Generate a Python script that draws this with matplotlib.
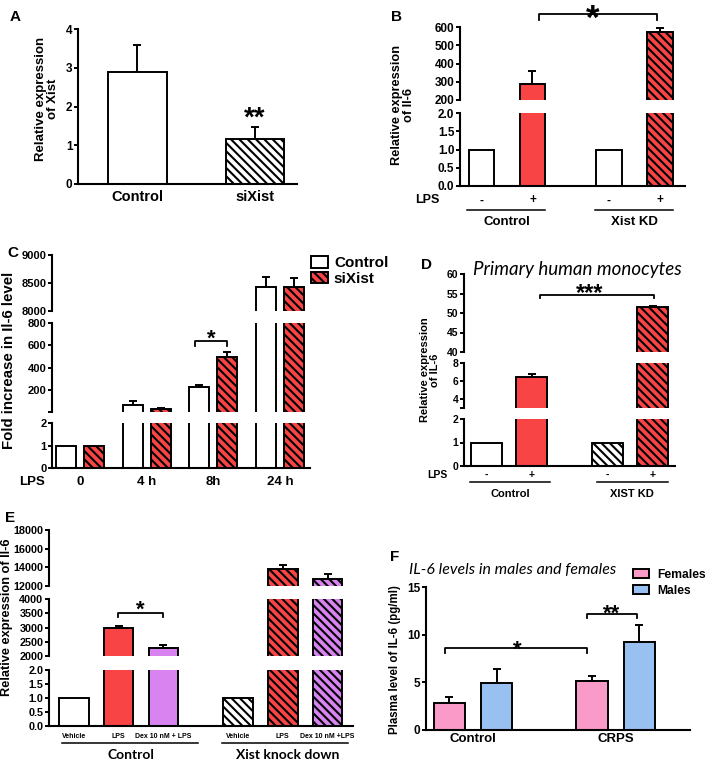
import numpy as np
import matplotlib
matplotlib.use("Agg")
import matplotlib.pyplot as plt
from matplotlib import transforms
from matplotlib.patches import Patch

# ---- data ----
a_groups = ['Control', 'siXist']
a_mean = [2.88, 1.15]
a_err = [0.70, 0.32]

b_lps = ['-', '+', '-', '+']
b_mean = [1, 285, 1, 570]
b_err = [0, 75, 0, 25]

c_times = ['0', '4 h', '8h', '24 h']
c_ctrl = [1, 72, 225, 8434]
c_ctrl_err = [0, 29, 18, 179]
c_si = [1, 30, 497, 8434]
c_si_err = [0, 15, 45, 150]

d_lps = ['-', '+', '-', '+']
d_mean = [1, 6.5, 1, 51.5]
d_err = [0, 0.25, 0, 0.4]

e_labels = ['Vehicle', 'LPS', 'Dex 10 nM + LPS', 'Vehicle', 'LPS', 'Dex 10 nM +LPS']
e_mean = [1, 2970, 2295, 1, 13830, 12780]
e_err = [0, 82, 95, 0, 450, 530]

f_groups = ['Control', 'CRPS']
f_fem = [2.86, 5.17]
f_fem_err = [0.57, 0.53]
f_male = [4.9, 9.2]
f_male_err = [1.5, 1.78]

RED = '#F84444'
PURPLE = '#D883F0'
PINK = '#F99AC9'
BLUE = '#98C1F2'
HATCH = '\\' * 4

plt.rcParams['font.family'] = ['Liberation Sans', 'DejaVu Sans']
plt.rcParams['font.weight'] = 'bold'
plt.rcParams['hatch.linewidth'] = 1.5

W, H = 707, 760
fig = plt.figure(figsize=(W / 100, H / 100), dpi=100)


def add_ax(x0, x1, ytop, ybot):
    ax = fig.add_axes([x0 / W, 1 - ybot / H, (x1 - x0) / W, (ybot - ytop) / H])
    ax.set_facecolor('none')
    for s in ['top', 'right']:
        ax.spines[s].set_visible(False)
    for s in ['left', 'bottom']:
        ax.spines[s].set_linewidth(1.5)
    ax.tick_params(axis='y', direction='out', length=3, width=1.4, pad=1)
    ax.tick_params(axis='x', length=0)
    return ax


def broken(x0, x1, segs, xlim, fs):
    axes = []
    for i, (yt, yb, lo, hi, ticks, labels) in enumerate(segs):
        ax = add_ax(x0, x1, yt, yb)
        ax.set_ylim(lo, hi)
        ax.set_xlim(*xlim)
        ax.set_yticks(ticks, labels if labels else [str(t) for t in ticks], fontsize=fs)
        if i < len(segs) - 1:
            ax.spines['bottom'].set_visible(False)
            ax.set_xticks([])
        axes.append(ax)
    return axes


def bars(axes, x, h, err, colors, hatches, w):
    x = np.asarray(x, float)
    h = np.asarray(h, float)
    err = np.asarray(err, float)
    m = err > 0
    for ax in axes:
        bc = ax.bar(x, h, w, color=colors, edgecolor='black', linewidth=1.4, zorder=2)
        for p, hh in zip(bc, hatches):
            if hh:
                p.set_hatch(hh)
        if m.any():
            ax.errorbar(x[m], h[m], yerr=[np.zeros(m.sum()), err[m]], fmt='none',
                        ecolor='black', elinewidth=1.4, capsize=3, capthick=1.4, zorder=1)


def bracket(ax, xa, xb, y, ytick):
    ax.plot([xa, xa, xb, xb], [ytick, y, y, ytick], color='black', lw=1.3, clip_on=False)


def ftext(xp, yp, s, **kw):
    return fig.text(xp / W, 1 - yp / H, s, **kw)


def star(xp, yp, s, size):
    # yp is where the glyph centre should sit
    ftext(xp, yp + 0.32 * size * 100 / 72, s, fontsize=size, ha='center', va='center')


def under(ax, xa, xb, yp):
    tr = transforms.blended_transform_factory(ax.transData, fig.transFigure)
    ax.plot([xa, xb], [1 - yp / H] * 2, color='black', lw=1.1, transform=tr, clip_on=False)


def dtext(ax, x, yp, s, **kw):
    tr = transforms.blended_transform_factory(ax.transData, fig.transFigure)
    ax.text(x, 1 - yp / H, s, transform=tr, ha='center', va='center', **kw)


# ---------------- A ----------------
ax = add_ax(78, 297, 29, 184)
ax.set_xlim(-0.506, 1.357)
ax.set_ylim(0, 4)
ax.set_yticks(range(5), [str(t) for t in range(5)], fontsize=8.5)
bars([ax], range(2), a_mean, a_err, ['white', 'white'], [None, HATCH], 0.5)
ax.set_xticks(range(2), a_groups, fontsize=10.5)
ax.tick_params(axis='x', pad=4)
star(255, 110, '**', 20)
ftext(47, 99, 'Relative expression\nof Xist', rotation=90, ha='center', va='center',
      fontsize=9.5, linespacing=1.05)
ftext(15, 17, 'A', fontsize=11, ha='center', va='center')

# ---------------- B ----------------
bx = [0, 1, 2.5, 3.5]
axs = broken(460, 685, [(27, 100, 200, 600, [200, 300, 400, 500, 600], None),
                        (113, 186, 0, 2, [0, 0.5, 1, 1.5, 2], ['0.0', '0.5', '1.0', '1.5', '2.0'])],
             (-0.42, 3.99), 8.5)
bars(axs, bx, b_mean, b_err, ['white', RED, 'white', RED], [None, None, None, HATCH], 0.5)
axs[-1].set_xticks(bx, b_lps, fontsize=8.5)
axs[-1].tick_params(axis='x', pad=6)
bracket(axs[0], 1.13, 3.44, 671, 638)
star(593, 8, '*', 25)
ftext(427, 200, 'LPS', fontsize=9, ha='center', va='center')
under(axs[-1], -0.28, 1.25, 210)
under(axs[-1], 2.22, 3.76, 210)
dtext(axs[-1], 0.5, 222, 'Control', fontsize=9.5)
dtext(axs[-1], 3.0, 222, 'Xist KD', fontsize=9.5)
ftext(403, 105, 'Relative expression\nof Il-6', rotation=90, ha='center', va='center',
      fontsize=9.2, linespacing=1.05)
ftext(397, 17, 'B', fontsize=11, ha='center', va='center')

# ---------------- C ----------------
cx = np.arange(len(c_times))
axs = broken(52, 310, [(255, 311, 8000, 9000, [8000, 8500, 9000], None),
                       (323, 412, 6, 800, [6, 200, 400, 600, 800], ['', '200', '400', '600', '800']),
                       (423, 468, 0, 2, [0, 1, 2], None)],
             (-0.42, 3.45), 8)
bars(axs, cx - 0.21, c_ctrl, c_ctrl_err, ['white'] * 4, [None] * 4, 0.3)
bars(axs, cx + 0.21, c_si, c_si_err, [RED] * 4, [HATCH] * 4, 0.3)
axs[-1].set_xticks(cx, c_times, fontsize=9.5)
axs[-1].tick_params(axis='x', pad=6)
bracket(axs[1], 1.72, 2.20, 638, 593)
star(211, 332, '*', 16)
ftext(32, 482, 'LPS', fontsize=9.5, ha='center', va='center')
ftext(9, 360, 'Fold increase in Il-6 level', rotation=90, ha='center', va='center', fontsize=10.8)
ftext(13, 253, 'C', fontsize=11, ha='center', va='center')
fig.legend([Patch(facecolor='white', edgecolor='black', lw=1.4),
            Patch(facecolor=RED, edgecolor='black', lw=1.4, hatch=HATCH)],
           ['Control', 'siXist'], loc='upper left', bbox_to_anchor=(311 / W, 1 - 256 / H),
           frameon=False, fontsize=11, handlelength=1.1, handleheight=0.8,
           handletextpad=0.4, labelspacing=0.1, borderpad=0, borderaxespad=0)

# ---------------- D ----------------
dx = [0, 1, 2.65, 3.65]
axs = broken(464, 675, [(274, 352, 40, 60, [40, 45, 50, 55, 60], None),
                        (363, 408, 3, 8, [3, 4, 6, 8], ['', '4', '6', '8']),
                        (419, 466, 0, 2, [0, 1, 2], None)],
             (-0.49, 4.14), 7.5)
bars(axs, dx, d_mean, d_err, ['white', RED, 'white', RED], [None, None, HATCH, HATCH], 0.68)
axs[-1].set_xticks(dx, d_lps, fontsize=7.5)
axs[-1].tick_params(axis='x', pad=3)
bracket(axs[0], 1.18, 3.68, 54.6, 53.8)
star(590, 286, '***', 17)
ftext(437, 475, 'LPS', fontsize=7.5, ha='center', va='center')
under(axs[-1], -0.36, 1.40, 482)
under(axs[-1], 2.43, 3.99, 482)
dtext(axs[-1], 0.52, 494, 'Control', fontsize=8)
dtext(axs[-1], 3.2, 494, 'XIST KD', fontsize=8)
ftext(430, 370, 'Relative expression\nof IL-6', rotation=90, ha='center', va='center',
      fontsize=8, linespacing=1.05)
ftext(577, 270, 'Primary human monocytes', fontsize=13.5, family=['Lato', 'DejaVu Sans'],
      style='italic', weight='normal', ha='center', va='center')
ftext(427, 265, 'D', fontsize=11, ha='center', va='center')

# ---------------- E ----------------
ex = [0, 1, 2, 3.67, 4.67, 5.67]
axs = broken(49, 353, [(530, 586, 12000, 18000, [12000, 14000, 16000, 18000], None),
                       (599, 656, 2000, 4000, [2000, 2500, 3000, 3500, 4000], None),
                       (670, 726, 0, 2, [0, 0.5, 1, 1.5, 2], ['0.0', '0.5', '1.0', '1.5', '2.0'])],
             (-0.56, 6.24), 7.8)
bars(axs, ex, e_mean, e_err, ['white', RED, PURPLE, 'white', RED, PURPLE],
     [None, None, None, HATCH, HATCH, HATCH], 0.66)
axs[-1].set_xticks(ex, e_labels, fontsize=5)
axs[-1].tick_params(axis='x', pad=5)
bracket(axs[1], 0.98, 1.99, 3509, 3368)
star(140, 603, '*', 16)
under(axs[-1], -0.27, 2.77, 743)
under(axs[-1], 3.31, 6.13, 743)
dtext(axs[-1], 1.28, 755, 'Control', fontsize=10, family=['Lato', 'DejaVu Sans'])
dtext(axs[-1], 4.77, 755, 'Xist knock down', fontsize=10, family=['Lato', 'DejaVu Sans'])
ftext(7, 617, 'Relative expression of Il-6', rotation=90, ha='center', va='center', fontsize=9.2)
ftext(10, 518, 'E', fontsize=11, ha='center', va='center')

# ---------------- F ----------------
fx = np.arange(len(f_groups))
ax = add_ax(426, 690, 587, 730)
ax.set_xlim(-0.33, 1.52)
ax.set_ylim(0, 15)
ax.set_yticks([0, 5, 10, 15], ['0', '5', '10', '15'], fontsize=8.5)
bars([ax], fx - 0.166, f_fem, f_fem_err, [PINK] * 2, [None] * 2, 0.22)
bars([ax], fx + 0.166, f_male, f_male_err, [BLUE] * 2, [None] * 2, 0.22)
ax.set_xticks(fx, f_groups, fontsize=9.5)
ax.tick_params(axis='x', pad=2)
bracket(ax, -0.20, 0.80, 8.6, 8.08)
star(517, 643, '*', 16)
bracket(ax, 0.80, 1.15, 12.17, 11.75)
star(612, 607, '**', 16)
ftext(395, 660, 'Plasma level of IL-6 (pg/ml)', rotation=90, ha='center', va='center', fontsize=8.3)
ftext(513, 570, 'IL-6 levels in males and females', fontsize=11.4, family=['Lato', 'DejaVu Sans'],
      style='italic', weight='normal', ha='center', va='center')
ftext(395, 557, 'F', fontsize=11, ha='center', va='center')
fig.legend([Patch(facecolor=PINK, edgecolor='black', lw=1.4),
            Patch(facecolor=BLUE, edgecolor='black', lw=1.4)],
           ['Females', 'Males'], loc='upper left', bbox_to_anchor=(633 / W, 1 - 569 / H),
           frameon=False, fontsize=8.7, handlelength=1.3, handleheight=0.8,
           handletextpad=0.7, labelspacing=0.3, borderpad=0, borderaxespad=0)

fig.savefig('out.png', dpi=100)
